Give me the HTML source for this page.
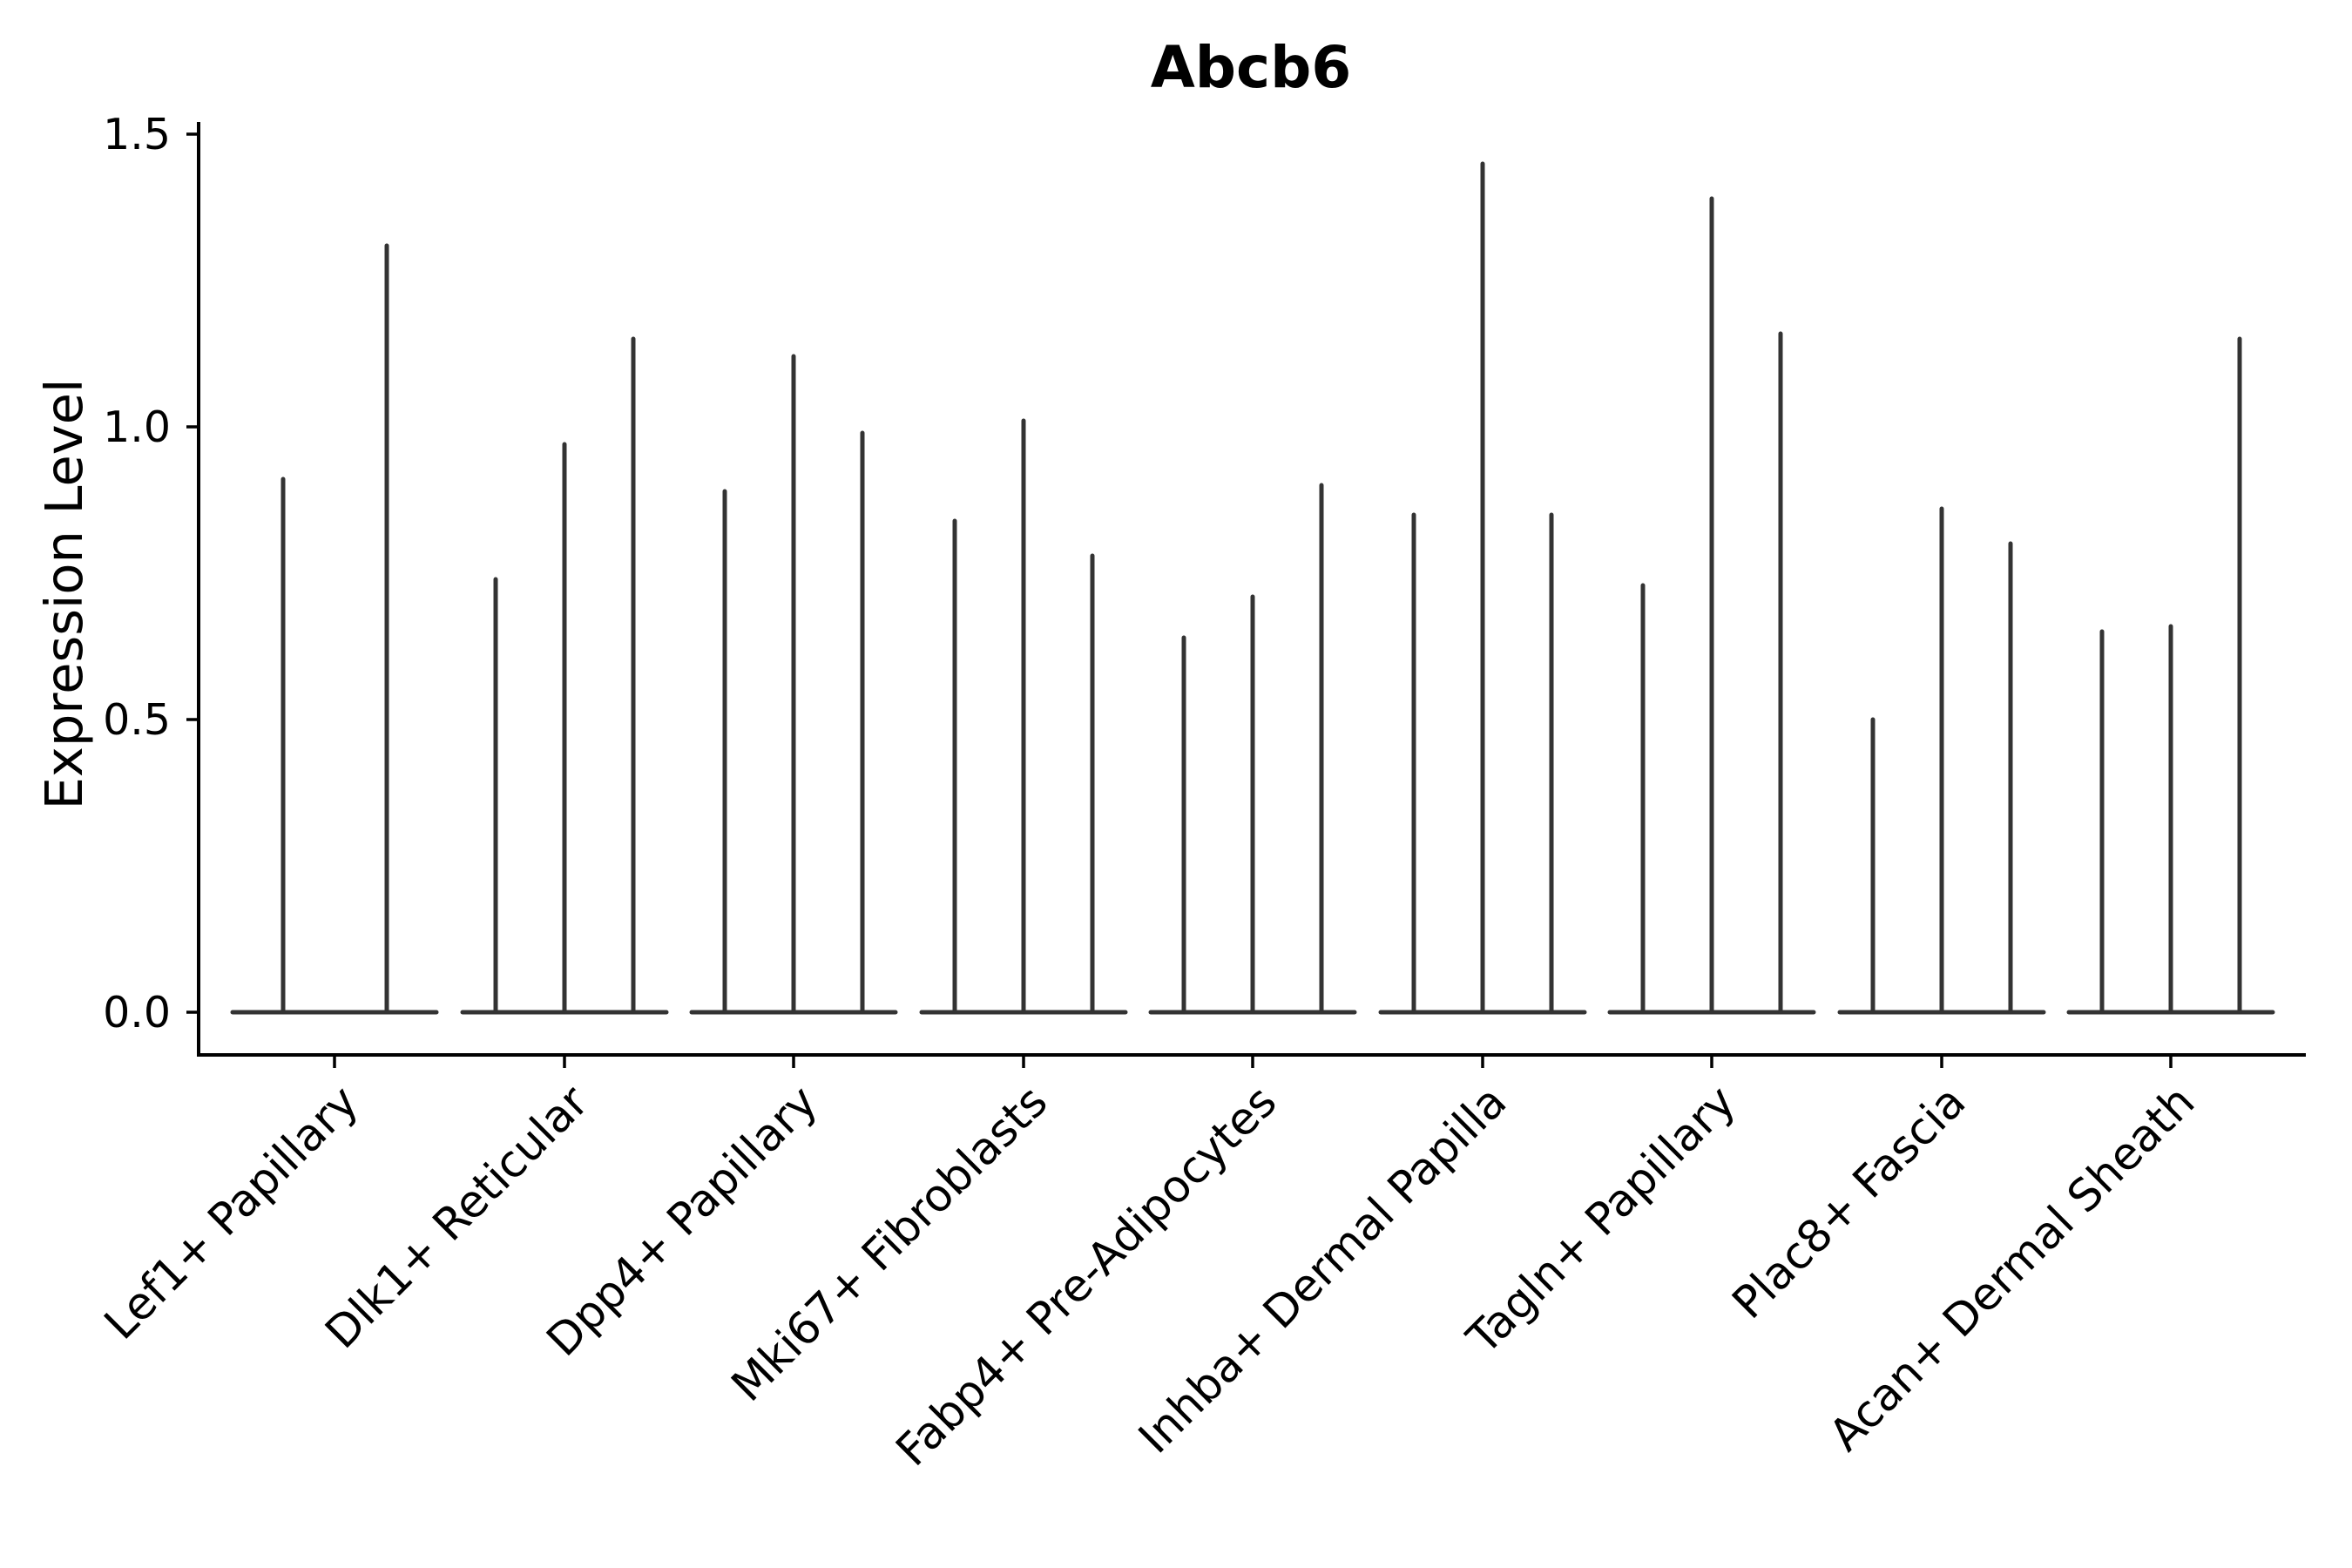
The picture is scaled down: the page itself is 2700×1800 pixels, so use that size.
<!DOCTYPE html>
<html><head><meta charset="utf-8"><style>
html,body{margin:0;padding:0;background:#fff;}
svg{display:block;}
text{font-family:"DejaVu Sans","Liberation Sans",sans-serif;fill:#000;}
</style></head><body>
<svg width="2700" height="1800" viewBox="0 0 2700 1800" xmlns="http://www.w3.org/2000/svg">
<rect width="2700" height="1800" fill="#fff"/>
<text x="1436" y="100" font-size="66" font-weight="bold" text-anchor="middle">Abcb6</text>
<line x1="228" y1="140" x2="228" y2="1213" stroke="#000" stroke-width="4"/>
<line x1="226" y1="1211" x2="2647" y2="1211" stroke="#000" stroke-width="4"/>
<g stroke="#000" stroke-width="3.5">
<line x1="214" y1="1162" x2="228" y2="1162"/>
<line x1="214" y1="826" x2="228" y2="826"/>
<line x1="214" y1="490" x2="228" y2="490"/>
<line x1="214" y1="154" x2="228" y2="154"/>
</g>
<g font-size="49" text-anchor="end">
<text x="196" y="1179">0.0</text>
<text x="196" y="843">0.5</text>
<text x="196" y="507">1.0</text>
<text x="196" y="171">1.5</text>
</g>
<text transform="translate(94,682) rotate(-90)" font-size="59" text-anchor="middle">Expression Level</text>
<g stroke="#333" stroke-width="5" stroke-linecap="round" fill="none">
<line x1="267" y1="1162" x2="501" y2="1162"/>
<line x1="531" y1="1162" x2="765" y2="1162"/>
<line x1="794" y1="1162" x2="1028" y2="1162"/>
<line x1="1058" y1="1162" x2="1292" y2="1162"/>
<line x1="1321" y1="1162" x2="1555" y2="1162"/>
<line x1="1585" y1="1162" x2="1819" y2="1162"/>
<line x1="1848" y1="1162" x2="2082" y2="1162"/>
<line x1="2112" y1="1162" x2="2346" y2="1162"/>
<line x1="2375" y1="1162" x2="2609" y2="1162"/>
<line x1="325" y1="1162" x2="325" y2="550"/>
<line x1="444" y1="1162" x2="444" y2="282"/>
<line x1="569" y1="1162" x2="569" y2="665"/>
<line x1="648" y1="1162" x2="648" y2="510"/>
<line x1="727" y1="1162" x2="727" y2="389"/>
<line x1="832" y1="1162" x2="832" y2="564"/>
<line x1="911" y1="1162" x2="911" y2="409"/>
<line x1="990" y1="1162" x2="990" y2="497"/>
<line x1="1096" y1="1162" x2="1096" y2="598"/>
<line x1="1175" y1="1162" x2="1175" y2="483"/>
<line x1="1254" y1="1162" x2="1254" y2="638"/>
<line x1="1359" y1="1162" x2="1359" y2="732"/>
<line x1="1438" y1="1162" x2="1438" y2="685"/>
<line x1="1517" y1="1162" x2="1517" y2="557"/>
<line x1="1623" y1="1162" x2="1623" y2="591"/>
<line x1="1702" y1="1162" x2="1702" y2="188"/>
<line x1="1781" y1="1162" x2="1781" y2="591"/>
<line x1="1886" y1="1162" x2="1886" y2="672"/>
<line x1="1965" y1="1162" x2="1965" y2="228"/>
<line x1="2044" y1="1162" x2="2044" y2="383"/>
<line x1="2150" y1="1162" x2="2150" y2="826"/>
<line x1="2229" y1="1162" x2="2229" y2="584"/>
<line x1="2308" y1="1162" x2="2308" y2="624"/>
<line x1="2413" y1="1162" x2="2413" y2="725"/>
<line x1="2492" y1="1162" x2="2492" y2="719"/>
<line x1="2571" y1="1162" x2="2571" y2="389"/>
</g>
<g stroke="#000" stroke-width="3.5">
<line x1="384" y1="1211" x2="384" y2="1226"/>
<line x1="648" y1="1211" x2="648" y2="1226"/>
<line x1="911" y1="1211" x2="911" y2="1226"/>
<line x1="1175" y1="1211" x2="1175" y2="1226"/>
<line x1="1438" y1="1211" x2="1438" y2="1226"/>
<line x1="1702" y1="1211" x2="1702" y2="1226"/>
<line x1="1965" y1="1211" x2="1965" y2="1226"/>
<line x1="2229" y1="1211" x2="2229" y2="1226"/>
<line x1="2492" y1="1211" x2="2492" y2="1226"/>
</g>
<g font-size="51" text-anchor="end">
<text transform="translate(414,1268) rotate(-45)">Lef1+ Papillary</text>
<text transform="translate(678,1268) rotate(-45)">Dlk1+ Reticular</text>
<text transform="translate(941,1268) rotate(-45)">Dpp4+ Papillary</text>
<text transform="translate(1205,1268) rotate(-45)">Mki67+ Fibroblasts</text>
<text transform="translate(1468,1268) rotate(-45)">Fabp4+ Pre-Adipocytes</text>
<text transform="translate(1732,1268) rotate(-45)">Inhba+ Dermal Papilla</text>
<text transform="translate(1995,1268) rotate(-45)">Tagln+ Papillary</text>
<text transform="translate(2259,1268) rotate(-45)">Plac8+ Fascia</text>
<text transform="translate(2522,1268) rotate(-45)">Acan+ Dermal Sheath</text>
</g>
</svg>
</body></html>
